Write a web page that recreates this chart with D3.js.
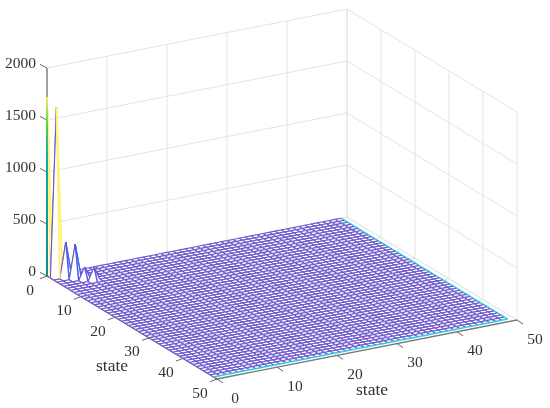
<!DOCTYPE html>
<html>
<head>
<meta charset="utf-8">
<script src="https://cdn.jsdelivr.net/npm/d3@7"></script>
<style>
    html, body { margin: 0; padding: 0; background: #fff; }
    svg { display: block; filter: blur(0.4px); }
    text { font-family: "Liberation Serif", serif; fill: #333; }
</style>
</head>
<body>
<div id="chart"></div>
<script>
// values
const stateCount = 50;
const diagonalPeaks = [1720, 1630, 343, 332, 119, 125];
const zTicks = [0, 500, 1000, 1500, 2000];
const stateTicks = [0, 10, 20, 30, 40, 50];
const colorStops = [0, 340, 1000, 1400, 1630];
const colorRange = ["#6e58cc", "#4060f0", "#12aeb4", "#5fd040", "#fff27a"];

const width = 550, height = 408;

// oblique view: every point is origin + a part + b part + height
const origin = [47, 276];
const xA = d3.scaleLinear().domain([0, 50]).range([0, 300]);
const yA = d3.scaleLinear().domain([0, 50]).range([0, -59]);
const xB = d3.scaleLinear().domain([0, 50]).range([0, 170]);
const yB = d3.scaleLinear().domain([0, 50]).range([0, 103]);
const zScale = d3.scaleLinear().domain([0, 2000]).range([0, -208]);
const color = d3.scaleLinear().domain(colorStops).range(colorRange).clamp(true);

const project = (a, b, z) => [
    origin[0] + xA(a) + xB(b),
    origin[1] + yA(a) + yB(b) + zScale(z || 0)
];

const line = d3.line();

const svg = d3.select("#chart").append("svg")
    .attr("width", width)
    .attr("height", height);

const segment = (g, p0, p1, stroke, strokeWidth) => g.append("path")
    .attr("d", line([p0, p1]))
    .attr("fill", "none")
    .attr("stroke", stroke)
    .attr("stroke-width", strokeWidth);

// walls and floor
const grid = svg.append("g");
const gridColor = "#e4e4e4";
zTicks.forEach(z => {
    segment(grid, project(0, 0, z), project(50, 0, z), gridColor, 1);
    segment(grid, project(50, 0, z), project(50, 50, z), gridColor, 1);
});
stateTicks.slice(1).forEach(t => {
    segment(grid, project(t, 0, 0), project(t, 0, 2000), t == 50 ? "#d8d8d8" : gridColor, 1);
    segment(grid, project(50, t, 0), project(50, t, 2000), gridColor, 1);
    segment(grid, project(t, 0, 0), project(t, 50, 0), gridColor, 1);
    segment(grid, project(0, t, 0), project(50, t, 0), gridColor, 1);
});

// axes and ticks
const axes = svg.append("g");
const axisColor = "#7a7a7a";
segment(axes, project(0, 0, 0), project(0, 0, 2000), "#888888", 1.6);
segment(axes, project(0, 0, 0), project(0, 50, 0), "#555555", 1.2);
segment(axes, project(0, 50, 0), project(50, 50, 0), axisColor, 1.3);

zTicks.forEach(z => {
    const p = project(0, 0, z);
    segment(axes, p, [p[0] - 7, p[1] - 3.6], "#666666", 1);
    axes.append("text").attr("x", 36).attr("y", p[1] - 6)
        .attr("text-anchor", "end").attr("dominant-baseline", "central")
        .attr("font-size", 15.5).text(z);
});
stateTicks.forEach(t => {
    const left = project(0, t, 0);
    segment(axes, left, [left[0] - 7, left[1] + 2.7], "#666666", 1);
    axes.append("text").attr("x", left[0] - 17).attr("y", left[1] + 13)
        .attr("text-anchor", "middle").attr("dominant-baseline", "central")
        .attr("font-size", 15.5).text(t);

    const right = project(t, 50, 0);
    segment(axes, right, [right[0] + 6, right[1] + 4], "#666666", 1);
    axes.append("text").attr("x", right[0] + 18).attr("y", right[1] + 18)
        .attr("text-anchor", "middle").attr("dominant-baseline", "central")
        .attr("font-size", 15.5).text(t);
});

axes.append("text").attr("x", 112).attr("y", 365)
    .attr("text-anchor", "middle").attr("dominant-baseline", "central")
    .attr("font-size", 17.5).text("state");
axes.append("text").attr("x", 372).attr("y", 389)
    .attr("text-anchor", "middle").attr("dominant-baseline", "central")
    .attr("font-size", 17.5).text("state");

// surface: zero apart from the first few diagonal cells
const surface = (a, b) => (a == b && a < diagonalPeaks.length) ? diagonalPeaks[a] : 0;

const defs = svg.append("defs");
const stem = defs.append("linearGradient")
    .attr("id", "stem")
    .attr("gradientUnits", "userSpaceOnUse")
    .attr("x1", 0).attr("x2", 0)
    .attr("y1", project(0, 0, diagonalPeaks[0])[1])
    .attr("y2", project(0, 0, 0)[1]);
[[0, "#f4f060"], [0.15, "#5fd040"], [0.35, "#10a8a8"], [1, "#108c94"]].forEach(s =>
    stem.append("stop").attr("offset", s[0]).attr("stop-color", s[1]));

// thicker where the edge belongs to a spike, the reference smears those
const edgeWidth = z => z > 1000 ? 1.8 : z > 0 ? 1.3 : 1.1;

// back to front, each cell hides what is behind it
const mesh = svg.append("g");
const edgeColor = "#22d2e2";
const last = stateCount - 1;
for (let a = last - 1; a >= 0; a--) {
    for (let b = 0; b < last; b++) {
        const z00 = surface(a, b), z10 = surface(a + 1, b), z01 = surface(a, b + 1);
        const p00 = project(a, b, z00);
        const p10 = project(a + 1, b, z10);
        const p11 = project(a + 1, b + 1, surface(a + 1, b + 1));
        const p01 = project(a, b + 1, z01);
        mesh.append("path")
            .attr("d", line([p00, p10, p11, p01]) + "Z")
            .attr("fill", "#fff");
        // flat edge colour, taken from the first vertex of the edge
        segment(mesh, p00, p10, color(z00), edgeWidth(z00));
        segment(mesh, p00, p01, color(z00), edgeWidth(z00));
        segment(mesh, p10, p11, a + 1 == last ? edgeColor : color(z10), a + 1 == last ? 1.5 : edgeWidth(z10));
        segment(mesh, p01, p11, b + 1 == last ? edgeColor : color(z01), b + 1 == last ? 1.5 : edgeWidth(z01));
    }
}

mesh.append("path")
    .attr("d", line([project(0, 0, diagonalPeaks[0]), project(0, 0, 0)]))
    .attr("stroke", "url(#stem)")
    .attr("stroke-width", 2)
    .attr("fill", "none");
</script>
</body>
</html>
